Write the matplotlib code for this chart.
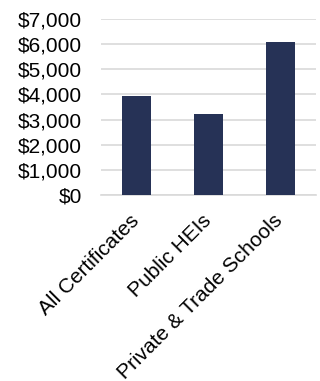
import matplotlib
matplotlib.use("Agg")
import matplotlib.pyplot as plt
import matplotlib.transforms as mtransforms
from matplotlib.ticker import FuncFormatter, MultipleLocator

categories = ["All Certificates", "Public HEIs", "Private & Trade Schools"]
values = [3950, 3210, 6070]

plt.rcParams["font.family"] = ["Liberation Sans", "DejaVu Sans"]

fig = plt.figure(figsize=(3.2, 3.81), dpi=100)
ax = fig.add_axes([101 / 320, 1 - 195 / 381, 215 / 320, 176 / 381])

x = range(len(categories))
ax.bar(x, values, width=0.4, color="#263256", zorder=3)

ax.set_xlim(-0.5, len(categories) - 0.5)
ax.set_ylim(0, 7000)
ax.yaxis.set_major_locator(MultipleLocator(1000))
ax.yaxis.set_major_formatter(FuncFormatter(lambda v, p: f"${v:,.0f}"))
ax.grid(axis="y", color="#d9d9d9", linewidth=1.2, zorder=0)
ax.set_axisbelow(True)

for s in ["top", "right", "left"]:
    ax.spines[s].set_visible(False)
ax.spines["bottom"].set_color("#d9d9d9")
ax.spines["bottom"].set_linewidth(1.2)

ax.set_xticks(list(x))
ax.set_xticklabels(categories, rotation=45, ha="right", va="top",
                   rotation_mode="anchor")
ax.tick_params(axis="both", length=0, labelsize=15, colors="black")
ax.tick_params(axis="y", pad=13.5)
ax.tick_params(axis="x", pad=0)

# nudge the slanted category labels down below each tick
offset = mtransforms.ScaledTranslation(-7 / 100, -16 / 100, fig.dpi_scale_trans)
for lbl in ax.get_xticklabels():
    lbl.set_transform(lbl.get_transform() + offset)

fig.savefig("out.png", dpi=100)
